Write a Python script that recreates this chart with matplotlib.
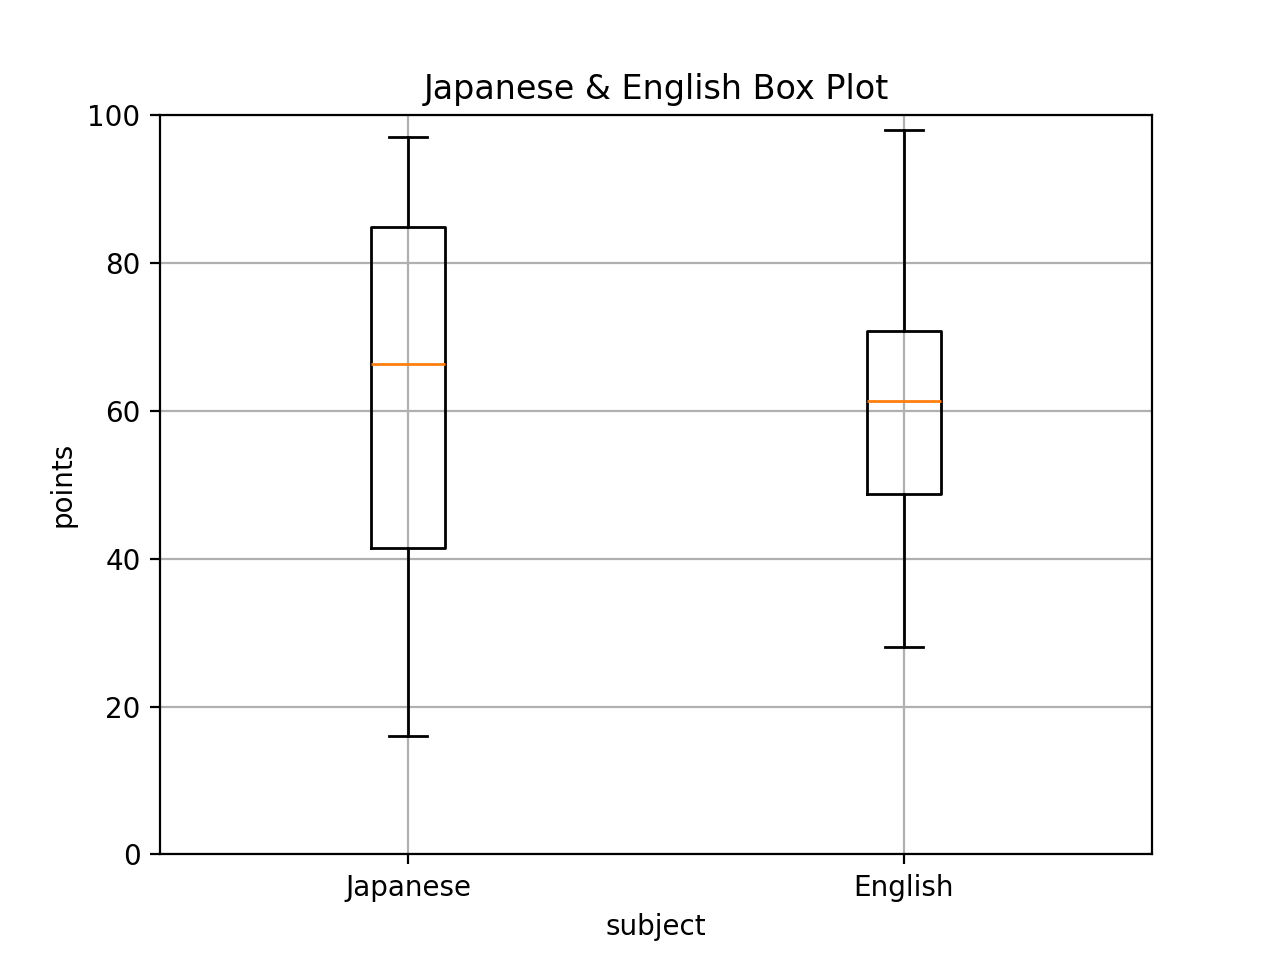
import matplotlib
matplotlib.use("Agg")
import matplotlib.pyplot as plt

# box plot stats
subjects = ["Japanese", "English"]
whislo = [16.0, 28.0]
q1 = [41.4, 48.7]
med = [66.4, 61.4]
q3 = [84.9, 70.8]
whishi = [97.0, 98.0]

stats = []
for i in range(len(subjects)):
    stats.append({"label": subjects[i], "whislo": whislo[i], "q1": q1[i],
                  "med": med[i], "q3": q3[i], "whishi": whishi[i], "fliers": []})

fig, ax = plt.subplots(figsize=(6.4, 4.8), dpi=200)
ax.bxp(stats, showfliers=False)
ax.set_ylim(0, 100)
ax.set_title("Japanese & English Box Plot")
ax.set_xlabel("subject")
ax.set_ylabel("points")
ax.grid(True)
fig.savefig("out.png")
